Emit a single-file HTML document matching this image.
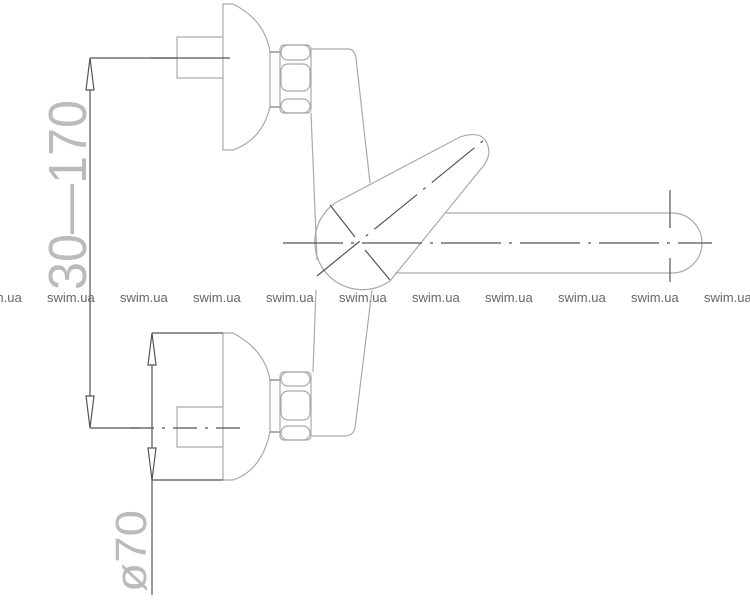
<!DOCTYPE html>
<html><head><meta charset="utf-8"><style>
html,body{margin:0;padding:0;background:#fff;}
svg{display:block}
</style></head><body>
<svg width="750" height="600" viewBox="0 0 750 600" xmlns="http://www.w3.org/2000/svg">
<g fill="none" stroke="#aaa" stroke-width="1.2">
  <!-- top fitting -->
  <path d="M223 4 L233 4 Q265 20 270 52 L270 107 Q262 140 233 150 L223 150 Z"/>
  <path d="M223 37 L177 37 L177 78 L223 78"/>
  <line x1="270" y1="52" x2="281" y2="52" stroke="#777"/>
  <line x1="270" y1="107" x2="281" y2="107" stroke="#777"/>
  <rect x="280" y="45" width="31" height="68" rx="4"/>
  <rect x="281" y="45" width="29" height="15" rx="7"/>
  <rect x="281" y="64" width="29" height="27" rx="7"/>
  <rect x="281" y="99" width="29" height="14" rx="7"/>
  <!-- body -->
  <path d="M311 49 L349 49 Q355 50 356 58 L370 183"/>
  <path d="M311 113 L317 260"/>
  <path d="M316 290 L313 372"/>
  <path d="M372 290 L355 428 Q353 436 344 436 L311 436"/>
  <!-- lower fitting -->
  <path d="M223 333 L233 333 Q265 350 270 380 L270 432 Q262 470 233 480 L223 480 Z"/>
  <path d="M223 407 L177 407 L177 447 L223 447"/>
  <line x1="270" y1="380" x2="281" y2="380" stroke="#777"/>
  <line x1="270" y1="432" x2="281" y2="432" stroke="#777"/>
  <rect x="280" y="372" width="31" height="68" rx="4"/>
  <rect x="281" y="372" width="29" height="14" rx="7"/>
  <rect x="281" y="391" width="29" height="29" rx="7"/>
  <rect x="281" y="426" width="29" height="14" rx="7"/>
  <!-- lever -->
  <path d="M335 203 L460 137 Q487 128 489 152 Q488 162 480 170 L390 281"/>
  <path d="M335 203 A47 47 0 1 0 390 281"/>
  <!-- spout -->
  <path d="M446 213 L672 213 A30 30 0 0 1 672 273 L395 273"/>
</g>
<g stroke="#555" stroke-width="1.2" fill="none">
  <line x1="283" y1="243" x2="712" y2="243" stroke-dasharray="60,8,3,8"/>
  <line x1="317" y1="276" x2="484" y2="140" stroke-dasharray="55,8,3,8"/>
  <line x1="330" y1="205" x2="355" y2="237"/>
  <line x1="365" y1="250" x2="390" y2="280"/>
  <line x1="670" y1="190" x2="670" y2="228"/>
  <line x1="670" y1="258" x2="670" y2="282"/>
  <line x1="150" y1="58" x2="230" y2="58"/>
  <line x1="90" y1="58" x2="177" y2="58"/>
  <line x1="130" y1="428" x2="240" y2="428" stroke-dasharray="24,8,3,8"/>
  <line x1="90" y1="428" x2="140" y2="428"/>
  <line x1="90" y1="58" x2="90" y2="428"/>
  <path d="M90 58 L86 90 L94 90 Z" fill="#fff"/>
  <path d="M90 428 L86 396 L94 396 Z" fill="#fff"/>
  <line x1="152" y1="333" x2="223" y2="333"/>
  <line x1="152" y1="480" x2="223" y2="480"/>
  <line x1="152" y1="333" x2="152" y2="595"/>
  <path d="M152 333 L148 365 L156 365 Z" fill="#fff"/>
  <path d="M152 480 L148 448 L156 448 Z" fill="#fff"/>
</g>
<g font-family="Liberation Sans, sans-serif" fill="#bbb">
  <text transform="translate(86,290) rotate(-90)" font-size="54" textLength="190" lengthAdjust="spacingAndGlyphs">30—170</text>
  <text transform="translate(146,592) rotate(-90)" font-size="44" textLength="82" lengthAdjust="spacingAndGlyphs">ø70</text>
</g>
<g font-family="Liberation Sans, sans-serif" font-size="13" fill="#666">
  <text x="-26" y="302">swim.ua</text>
  <text x="47" y="302">swim.ua</text>
  <text x="120" y="302">swim.ua</text>
  <text x="193" y="302">swim.ua</text>
  <text x="266" y="302">swim.ua</text>
  <text x="339" y="302">swim.ua</text>
  <text x="412" y="302">swim.ua</text>
  <text x="485" y="302">swim.ua</text>
  <text x="558" y="302">swim.ua</text>
  <text x="631" y="302">swim.ua</text>
  <text x="704" y="302">swim.ua</text>
</g>
</svg>
</body></html>
